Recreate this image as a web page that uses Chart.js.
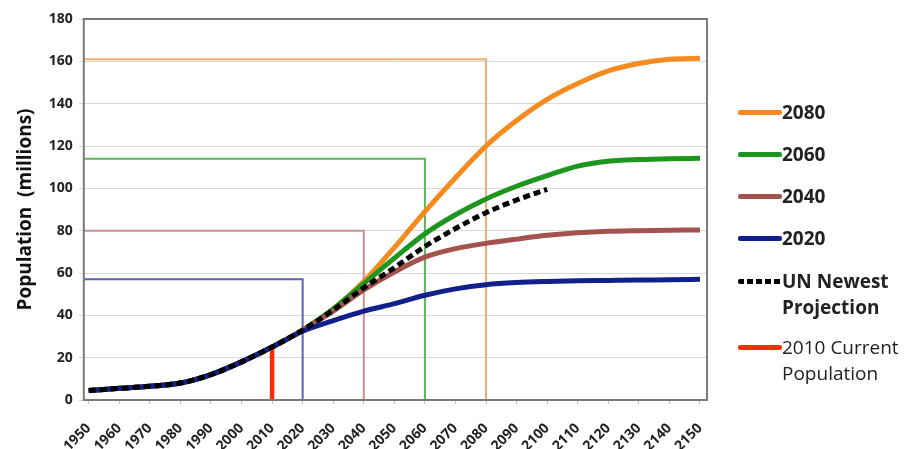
<!DOCTYPE html>
<html>
<head>
<meta charset="utf-8">
<script src="https://cdn.jsdelivr.net/npm/chart.js@4"></script>
<style>
  body { margin: 0; background: #fff; }
  #wrap { position: relative; width: 912px; height: 449px; }
  #legend { position: absolute; left: 738px; top: 0; font-family: "Open Sans", sans-serif; color: #222; }
  .item { position: absolute; left: 0; white-space: nowrap; }
  .item .sw { position: absolute; left: 0; width: 44px; height: 5px; border-radius: 2px; }
  .item .tx { position: absolute; left: 44px; font-size: 19px; line-height: 26px; }
  .b { font-weight: bold; }
</style>
</head>
<body>
<div id="wrap">
  <canvas id="myChart" width="912" height="449"></canvas>
  <div id="legend"></div>
</div>
<script>
const ctx = document.getElementById('myChart');

// data (millions)
const years = [1950, 1960, 1970, 1980, 1990, 2000, 2010, 2020, 2030, 2040, 2050,
  2060, 2070, 2080, 2090, 2100, 2110, 2120, 2130, 2140, 2150];
const pop2080 = [4.5, 5.5, 6.5, 8, 12, 18, 25, 33, 43, 56, 72, 89, 105, 120, 132, 142, 149.5, 155.5, 159, 161, 161.5];
const pop2060 = [4.5, 5.5, 6.5, 8, 12, 18, 25, 33, 43, 55, 67, 78.5, 87.5, 95, 101, 106, 110.5, 112.8, 113.6, 114, 114.2];
const pop2040 = [4.5, 5.5, 6.5, 8, 12, 18, 25, 33, 42, 52, 60.5, 67.5, 71.5, 74, 76, 77.8, 79, 79.7, 80, 80.2, 80.3];
const pop2020 = [4.5, 5.5, 6.5, 8, 12, 18, 25, 32.5, 37.5, 42, 45.5, 49.5, 52.5, 54.5, 55.5, 56, 56.3, 56.5, 56.7, 56.8, 57];
const unYears = [1950, 1960, 1970, 1980, 1990, 2000, 2010, 2020, 2030, 2040, 2050, 2060, 2070, 2080, 2090, 2100];
const unProj = [4.5, 5.5, 6.5, 8, 12, 18, 25, 33, 42.5, 53, 62.5, 72.5, 81, 88.5, 94.5, 99.5];
const currentYear = 2010;
const currentPop = 25;
// limit year and stable population for each scenario
const targets = [
  { label: '2080', year: 2080, pop: 161 },
  { label: '2060', year: 2060, pop: 114 },
  { label: '2040', year: 2040, pop: 80 },
  { label: '2020', year: 2020, pop: 57 }
];
const yTicks = [0, 20, 40, 60, 80, 100, 120, 140, 160, 180];
const xTicks = years;

const xMin = 1948.4, xMax = 2152.3;

const curveColors = { '2080': '#f58b1f', '2060': '#1c961c', '2040': '#a4524e', '2020': '#12208c' };
const refColors = { '2080': '#f3ae6e', '2060': '#5fb25f', '2040': '#cc8f8f', '2020': '#5563b8' };

const pts = (xs, ys) => xs.map((x, i) => ({ x: x, y: ys[i] }));

// first dataset is drawn on top
const datasets = [];
datasets.push({
  label: 'UN Newest Projection',
  data: pts(unYears, unProj),
  borderColor: '#000',
  borderWidth: 5,
  borderDash: [7, 4],
  pointRadius: 0,
  cubicInterpolationMode: 'monotone'
});
[['2020', pop2020], ['2040', pop2040], ['2060', pop2060], ['2080', pop2080]].forEach(([k, arr]) => {
  datasets.push({
    label: k,
    data: pts(years, arr),
    borderColor: curveColors[k],
    borderWidth: 5,
    pointRadius: 0,
    cubicInterpolationMode: 'monotone'
  });
});
// current population bar
datasets.push({
  label: 'current',
  data: [{ x: currentYear, y: 0 }, { x: currentYear, y: currentPop }],
  borderColor: '#ff2a0a',
  borderWidth: 4.5,
  pointRadius: 0
});
// reference boxes (thin)
targets.forEach(t => {
  datasets.push({
    label: 'ref' + t.label,
    data: [{ x: xMin, y: t.pop }, { x: t.year, y: t.pop }, { x: t.year, y: 0 }],
    borderColor: refColors[t.label],
    borderWidth: 2,
    pointRadius: 0,
    tension: 0
  });
});

const frame = {
  id: 'frame',
  afterDraw(chart) {
    const a = chart.chartArea, c = chart.ctx;
    c.save();
    c.strokeStyle = '#7a7a7a';
    c.lineWidth = 2;
    c.strokeRect(a.left, a.top, a.right - a.left, a.bottom - a.top);
    c.restore();
  }
};

new Chart(ctx, {
  type: 'line',
  data: { datasets: datasets },
  options: {
    responsive: false,
    animation: false,
    layout: { padding: { left: 14, right: 205, top: 19, bottom: 0 } },
    plugins: { legend: { display: false }, tooltip: { enabled: false } },
    scales: {
      x: {
        type: 'linear',
        min: xMin,
        max: xMax,
        afterBuildTicks: s => { s.ticks = xTicks.map(v => ({ value: v })); },
        afterFit: s => { s.height = 49; },
        grid: { display: true, drawOnChartArea: false, tickLength: 4, color: '#bbb' },
        border: { display: false },
        ticks: {
          color: '#222',
          font: { family: 'Open Sans', size: 14, weight: 'bold' },
          minRotation: 45,
          maxRotation: 45,
          padding: 16,
          callback: v => String(v)
        }
      },
      y: {
        min: 0,
        max: 180,
        afterBuildTicks: s => { s.ticks = yTicks.map(v => ({ value: v })); },
        grid: { color: '#d9d9d9', lineWidth: 1, tickLength: 5 },
        border: { display: false },
        ticks: {
          color: '#222',
          font: { family: 'Open Sans', size: 14, weight: 'bold' },
          padding: 6
        },
        title: {
          display: true,
          text: 'Population  (millions)',
          color: '#111',
          font: { family: 'Open Sans', size: 19, weight: 'bold' },
          padding: { top: 0, bottom: 6 }
        }
      }
    }
  },
  plugins: [frame]
});

// legend on the right
const legendItems = [
  { color: curveColors['2080'], lines: ['2080'], bold: true, top: 99 },
  { color: curveColors['2060'], lines: ['2060'], bold: true, top: 141 },
  { color: curveColors['2040'], lines: ['2040'], bold: true, top: 183 },
  { color: curveColors['2020'], lines: ['2020'], bold: true, top: 225 },
  { color: null, lines: ['UN Newest', 'Projection'], bold: true, top: 268 },
  { color: '#ff2a0a', lines: ['2010 Current', 'Population'], bold: false, top: 334 }
];
const legend = document.getElementById('legend');
legendItems.forEach(it => {
  const d = document.createElement('div');
  d.className = 'item';
  d.style.top = it.top + 'px';
  const sw = document.createElement('div');
  sw.className = 'sw';
  sw.style.top = '11px';
  if (it.color) {
    sw.style.background = it.color;
  } else {
    sw.style.background = 'repeating-linear-gradient(90deg,#000 0 6px,transparent 6px 9px)';
  }
  const tx = document.createElement('div');
  tx.className = 'tx' + (it.bold ? ' b' : '');
  tx.innerHTML = it.lines.join('<br>');
  d.appendChild(sw);
  d.appendChild(tx);
  legend.appendChild(d);
});
</script>
</body>
</html>
